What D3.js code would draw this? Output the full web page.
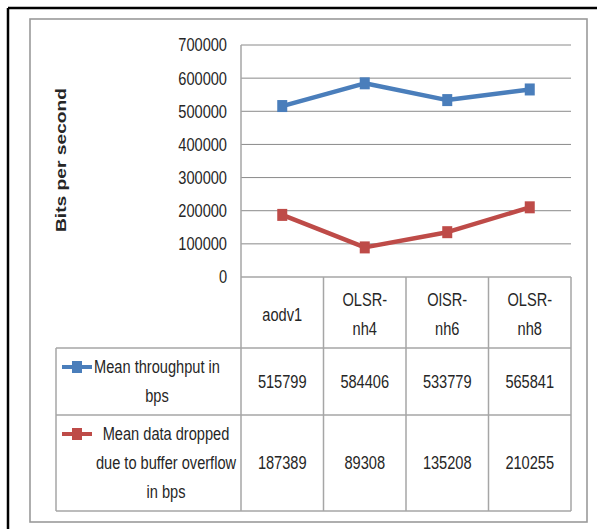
<!DOCTYPE html>
<html>
<head>
<meta charset="utf-8">
<script src="https://cdn.jsdelivr.net/npm/d3@7"></script>
<style>
  html, body { margin: 0; padding: 0; background: #fff; }
  svg text { font-family: "Liberation Sans", Arial, sans-serif; fill: #262626; }
</style>
</head>
<body>
<svg id="chart" width="597" height="529"></svg>
<script>
// Categories (table header labels, split across lines as they wrap)
const categories = ["aodv1", "OLSR-nh4", "OlSR-nh6", "OLSR-nh8"];
const categoryLines = [["aodv1"], ["OLSR-", "nh4"], ["OlSR-", "nh6"], ["OLSR-", "nh8"]];

// Series values (bits per second)
const throughput = [515799, 584406, 533779, 565841];
const dropped = [187389, 89308, 135208, 210255];

// Series names as wrapped in the data table legend
const throughputName = ["Mean throughput in", "bps"];
const droppedName = ["Mean data dropped", "due to buffer overflow", "in bps"];

// Y axis ticks
const yTicks = [0, 100000, 200000, 300000, 400000, 500000, 600000, 700000];
const yTitle = "Bits per second";

const svg = d3.select("#chart");
const blue = "#4a7ebb", red = "#be4b48";
const gridColor = "#8a8a8a", tableColor = "#a6a6a6";
const squeeze = 0.79;   // condensed look for the body font
const fs = 18.5, lh = 29;

// Page frame: black rule along top and left, grey chart-area border
svg.append("line").attr("x1", 8).attr("y1", 8).attr("x2", 597).attr("y2", 8)
  .attr("stroke", "#000").attr("stroke-width", 2.5);
svg.append("line").attr("x1", 8).attr("y1", 8).attr("x2", 8).attr("y2", 529)
  .attr("stroke", "#000").attr("stroke-width", 2.5);
svg.append("rect").attr("x", 30).attr("y", 19).attr("width", 557).attr("height", 503)
  .attr("fill", "none").attr("stroke", "#9a9a9a").attr("stroke-width", 1.6);

// Scales
const plotLeft = 241, plotRight = 571;
const y = d3.scaleLinear().domain([0, 700000]).range([277, 45]);
const x = d3.scaleBand().domain(categories).range([plotLeft, plotRight]);
const cx = c => x(c) + x.bandwidth() / 2;

// Gridlines
svg.append("g").selectAll("line").data(yTicks.filter(v => v > 0)).join("line")
  .attr("x1", plotLeft).attr("x2", plotRight)
  .attr("y1", d => y(d)).attr("y2", d => y(d))
  .attr("stroke", gridColor).attr("stroke-width", 1);

// Y axis: tick labels only, via d3.axisLeft
const yAxis = svg.append("g").attr("transform", `translate(${plotLeft - 14},0)`)
  .call(d3.axisLeft(y).tickValues(yTicks).tickFormat(d3.format("d")).tickSize(0).tickPadding(0));
yAxis.select(".domain").remove();
yAxis.selectAll("text").attr("font-size", fs)
  .style("font-family", '"Liberation Sans", Arial, sans-serif')
  .attr("fill", "#262626").attr("transform", `scale(${squeeze},1)`);

// Y axis title
svg.append("text")
  .attr("transform", `translate(66,160) rotate(-90)`)
  .attr("text-anchor", "middle")
  .attr("textLength", 144).attr("lengthAdjust", "spacingAndGlyphs")
  .attr("font-weight", "bold").attr("font-size", 15)
  .text(yTitle);

// Data table
const rowTop = [277, 348, 415, 511];
const tableLeft = 56;
const g = svg.append("g").attr("stroke", tableColor).attr("stroke-width", 1.5);
g.append("line").attr("x1", plotLeft).attr("x2", plotRight).attr("y1", rowTop[0]).attr("y2", rowTop[0]);
[1, 2, 3].forEach(i => g.append("line").attr("x1", tableLeft).attr("x2", plotRight)
  .attr("y1", rowTop[i]).attr("y2", rowTop[i]));
g.append("line").attr("x1", plotLeft).attr("x2", plotLeft).attr("y1", y(700000)).attr("y2", rowTop[3]);
g.append("line").attr("x1", tableLeft).attr("x2", tableLeft).attr("y1", rowTop[1]).attr("y2", rowTop[3]);
categories.forEach(c => g.append("line").attr("x1", x(c) + x.bandwidth()).attr("x2", x(c) + x.bandwidth())
  .attr("y1", rowTop[0]).attr("y2", rowTop[3]));

// Centered block of text lines, horizontally condensed
function multiline(lines, xc, ymid) {
  const y0 = ymid - (lines.length - 1) * lh / 2;
  lines.forEach((s, i) => svg.append("text")
    .attr("transform", `translate(${xc},${y0 + i * lh}) scale(${squeeze},1)`)
    .attr("text-anchor", "middle").attr("dy", "0.35em").attr("font-size", fs)
    .text(s));
}
categories.forEach((c, i) => multiline(categoryLines[i], cx(c), (rowTop[0] + rowTop[1]) / 2 + 2));

const series = [
  { name: throughputName, values: throughput, color: blue, row: 1, textX: 157 },
  { name: droppedName, values: dropped, color: red, row: 2, textX: 166 }
];
series.forEach(s => {
  const mid = (rowTop[s.row] + rowTop[s.row + 1]) / 2;
  categories.forEach((c, i) => multiline([String(s.values[i])], cx(c), mid));
  multiline(s.name, s.textX, mid);
  // legend key
  const ky = mid - (s.name.length - 1) * lh / 2;
  svg.append("line").attr("x1", 62).attr("x2", 92).attr("y1", ky).attr("y2", ky)
    .attr("stroke", s.color).attr("stroke-width", 4);
  svg.append("rect").attr("x", 77 - 5).attr("y", ky - 6).attr("width", 10).attr("height", 12)
    .attr("fill", s.color);
});

// Lines and markers
const line = d3.line().x((d, i) => cx(categories[i])).y(d => y(d));
series.forEach(s => {
  svg.append("path").datum(s.values).attr("d", line)
    .attr("fill", "none").attr("stroke", s.color).attr("stroke-width", 4.5)
    .attr("stroke-linejoin", "round");
  svg.append("g").selectAll("rect").data(s.values).join("rect")
    .attr("x", (d, i) => cx(categories[i]) - 5).attr("y", d => y(d) - 6)
    .attr("width", 10).attr("height", 12).attr("fill", s.color);
});
</script>
</body>
</html>
